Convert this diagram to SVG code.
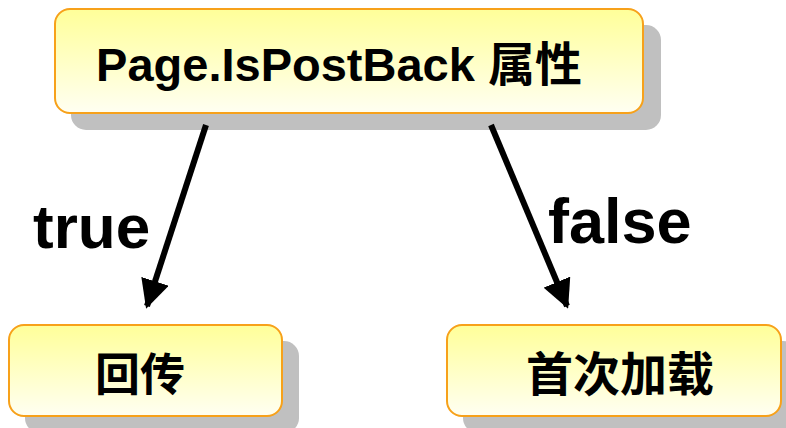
<svg xmlns="http://www.w3.org/2000/svg" width="786" height="428" viewBox="0 0 786 428">
<defs>
<linearGradient id="g" x1="0" y1="0" x2="0" y2="1">
<stop offset="0" stop-color="#FFFF99"/>
<stop offset="1" stop-color="#FFFFF2"/>
</linearGradient>
<marker id="ah" viewBox="0 0 10 10" refX="9" refY="5" markerWidth="4.8" markerHeight="4.8" orient="auto" markerUnits="strokeWidth">
<path d="M0,0 L10,5 L0,10 z" fill="#000"/>
</marker>
</defs>
<style>
.sh{fill:#C0C0C0}
.box{fill:url(#g);stroke:#F7A11A;stroke-width:2}
.t{font-family:"Liberation Sans","Noto Sans CJK SC",sans-serif;font-weight:bold;fill:#000}
.c{stroke:#000;stroke-width:6;fill:none;marker-end:url(#ah)}
</style>
<rect width="786" height="428" fill="#fff"/>
<g id="top">
<rect class="sh" x="71" y="25" width="590" height="105" rx="15"/>
<rect class="box" x="55" y="9" width="588" height="104" rx="15"/>
<text class="t" x="339" y="81" font-size="47" text-anchor="middle">Page.IsPostBack 属性</text>
</g>
<g id="postback">
<rect class="sh" x="25" y="341" width="274" height="92" rx="15"/>
<rect class="box" x="9" y="325" width="273" height="91" rx="15"/>
<text class="t" x="140" y="391" font-size="45" text-anchor="middle">回传</text>
</g>
<g id="firstload">
<rect class="sh" x="463" y="341" width="335" height="92" rx="15"/>
<rect class="box" x="447" y="325" width="334" height="91" rx="15"/>
<text class="t" x="620" y="391" font-size="47" text-anchor="middle">首次加载</text>
</g>
<g id="connectors">
<line class="c" x1="206" y1="125" x2="147" y2="306"/>
<line class="c" x1="491" y1="125" x2="567" y2="306"/>
</g>
<g id="labels">
<text class="t" x="33" y="248" font-size="62">true</text>
<text class="t" x="548" y="243" font-size="63">false</text>
</g>
</svg>
